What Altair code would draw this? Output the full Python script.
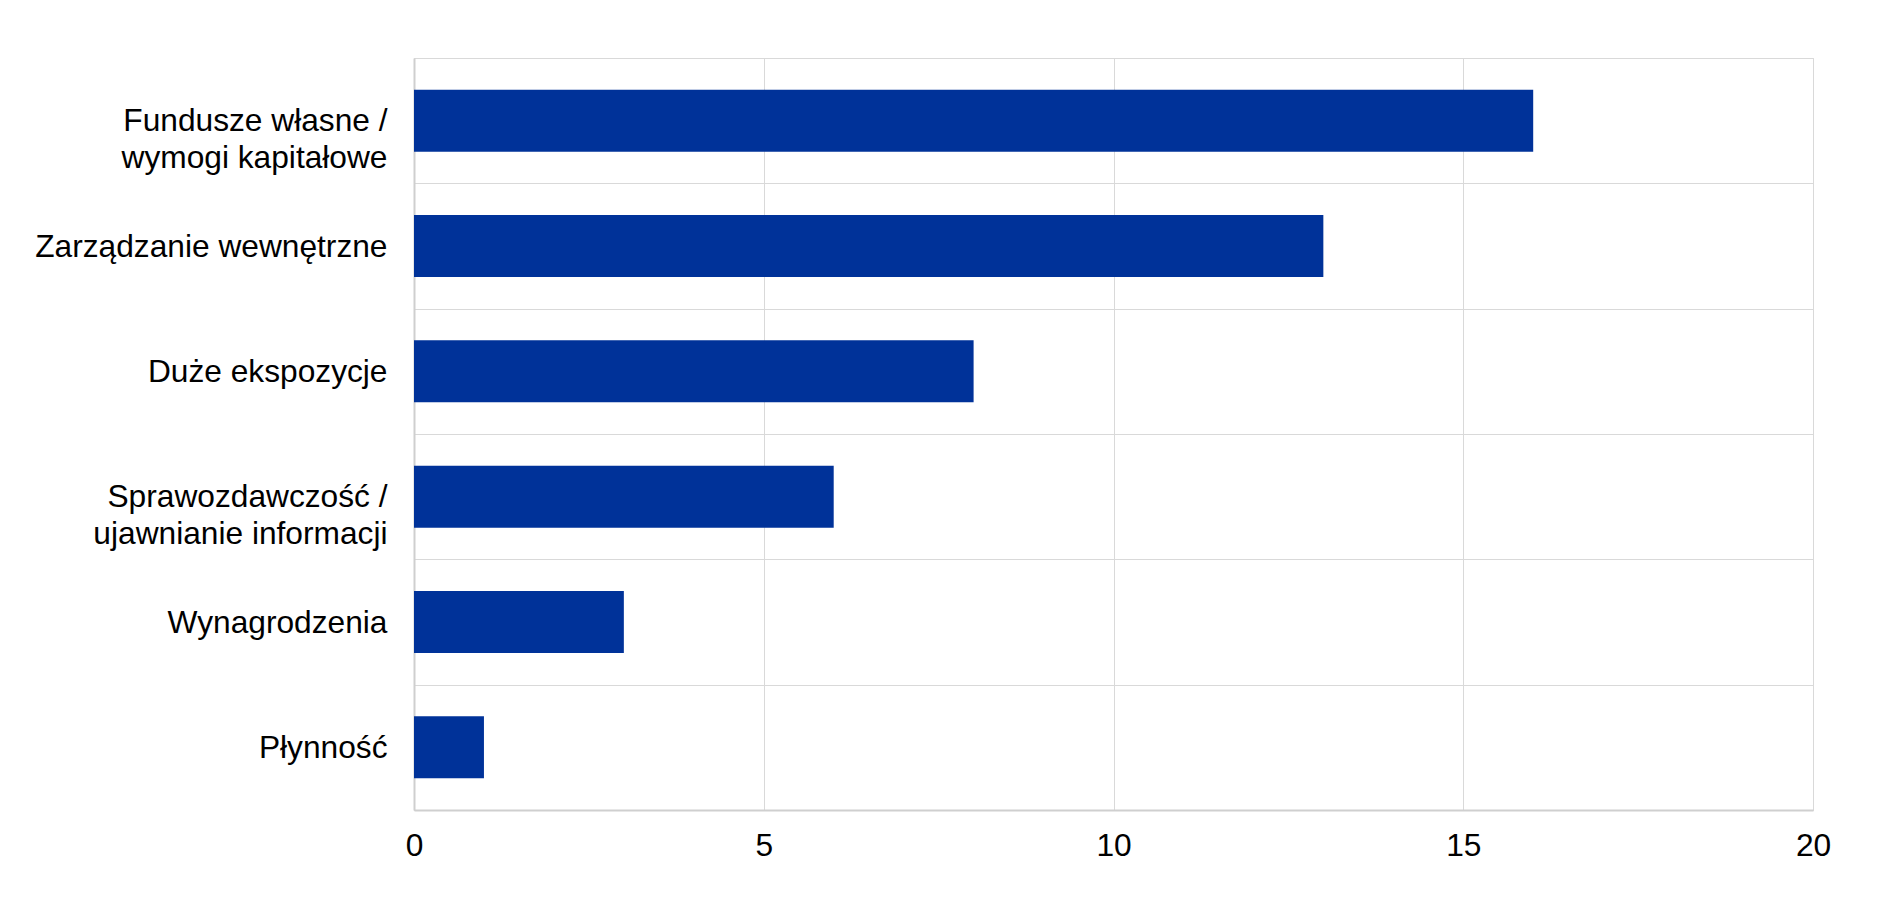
import altair as alt
import pandas as pd

categories = [
    "Fundusze własne /|wymogi kapitałowe",
    "Zarządzanie wewnętrzne",
    "Duże ekspozycje",
    "Sprawozdawczość / |ujawnianie informacji",
    "Wynagrodzenia",
    "Płynność",
]
values = [16, 13, 8, 6, 3, 1]
x_ticks = [0, 5, 10, 15, 20]

df = pd.DataFrame({"cat": categories, "val": values})

FONT = "Liberation Sans"
GRID = "#d9d9d9"

chart = (
    alt.Chart(df)
    .mark_bar(color="#003299", size=62)
    .encode(
        x=alt.X(
            "val:Q",
            scale=alt.Scale(domain=[0, 20], nice=False),
            axis=alt.Axis(
                values=x_ticks,
                title=None,
                grid=True,
                gridColor=GRID,
                ticks=False,
                labelPadding=20,
                labelFontSize=31.7,
                labelFont=FONT,
                labelColor="#000000",
                domainColor="#cfcfcf",
                domainWidth=2,
                labelFlush=False,
            ),
        ),
        y=alt.Y(
            "cat:N",
            sort=categories,
            scale=alt.Scale(paddingInner=0, paddingOuter=0),
            axis=alt.Axis(
                title=None,
                grid=True,
                gridColor=GRID,
                tickBand="extent",
                ticks=False,
                labelPadding=27,
                labelFontSize=31.7,
                labelFont=FONT,
                labelColor="#000000",
                labelLineHeight=37,
                labelLimit=600,
                labelExpr="split(datum.label, '|')",
                domainColor="#cfcfcf",
                domainWidth=2,
            ),
        ),
    )
    .properties(
        width=1399,
        height=752,
        autosize=alt.AutoSizeParams(type="none"),
        padding={"left": 406, "top": 50, "right": 60, "bottom": 80},
    )
    .configure_view(stroke=GRID, strokeWidth=1)
)

chart.save("out.html", embed_options={"renderer": "svg", "actions": False})
